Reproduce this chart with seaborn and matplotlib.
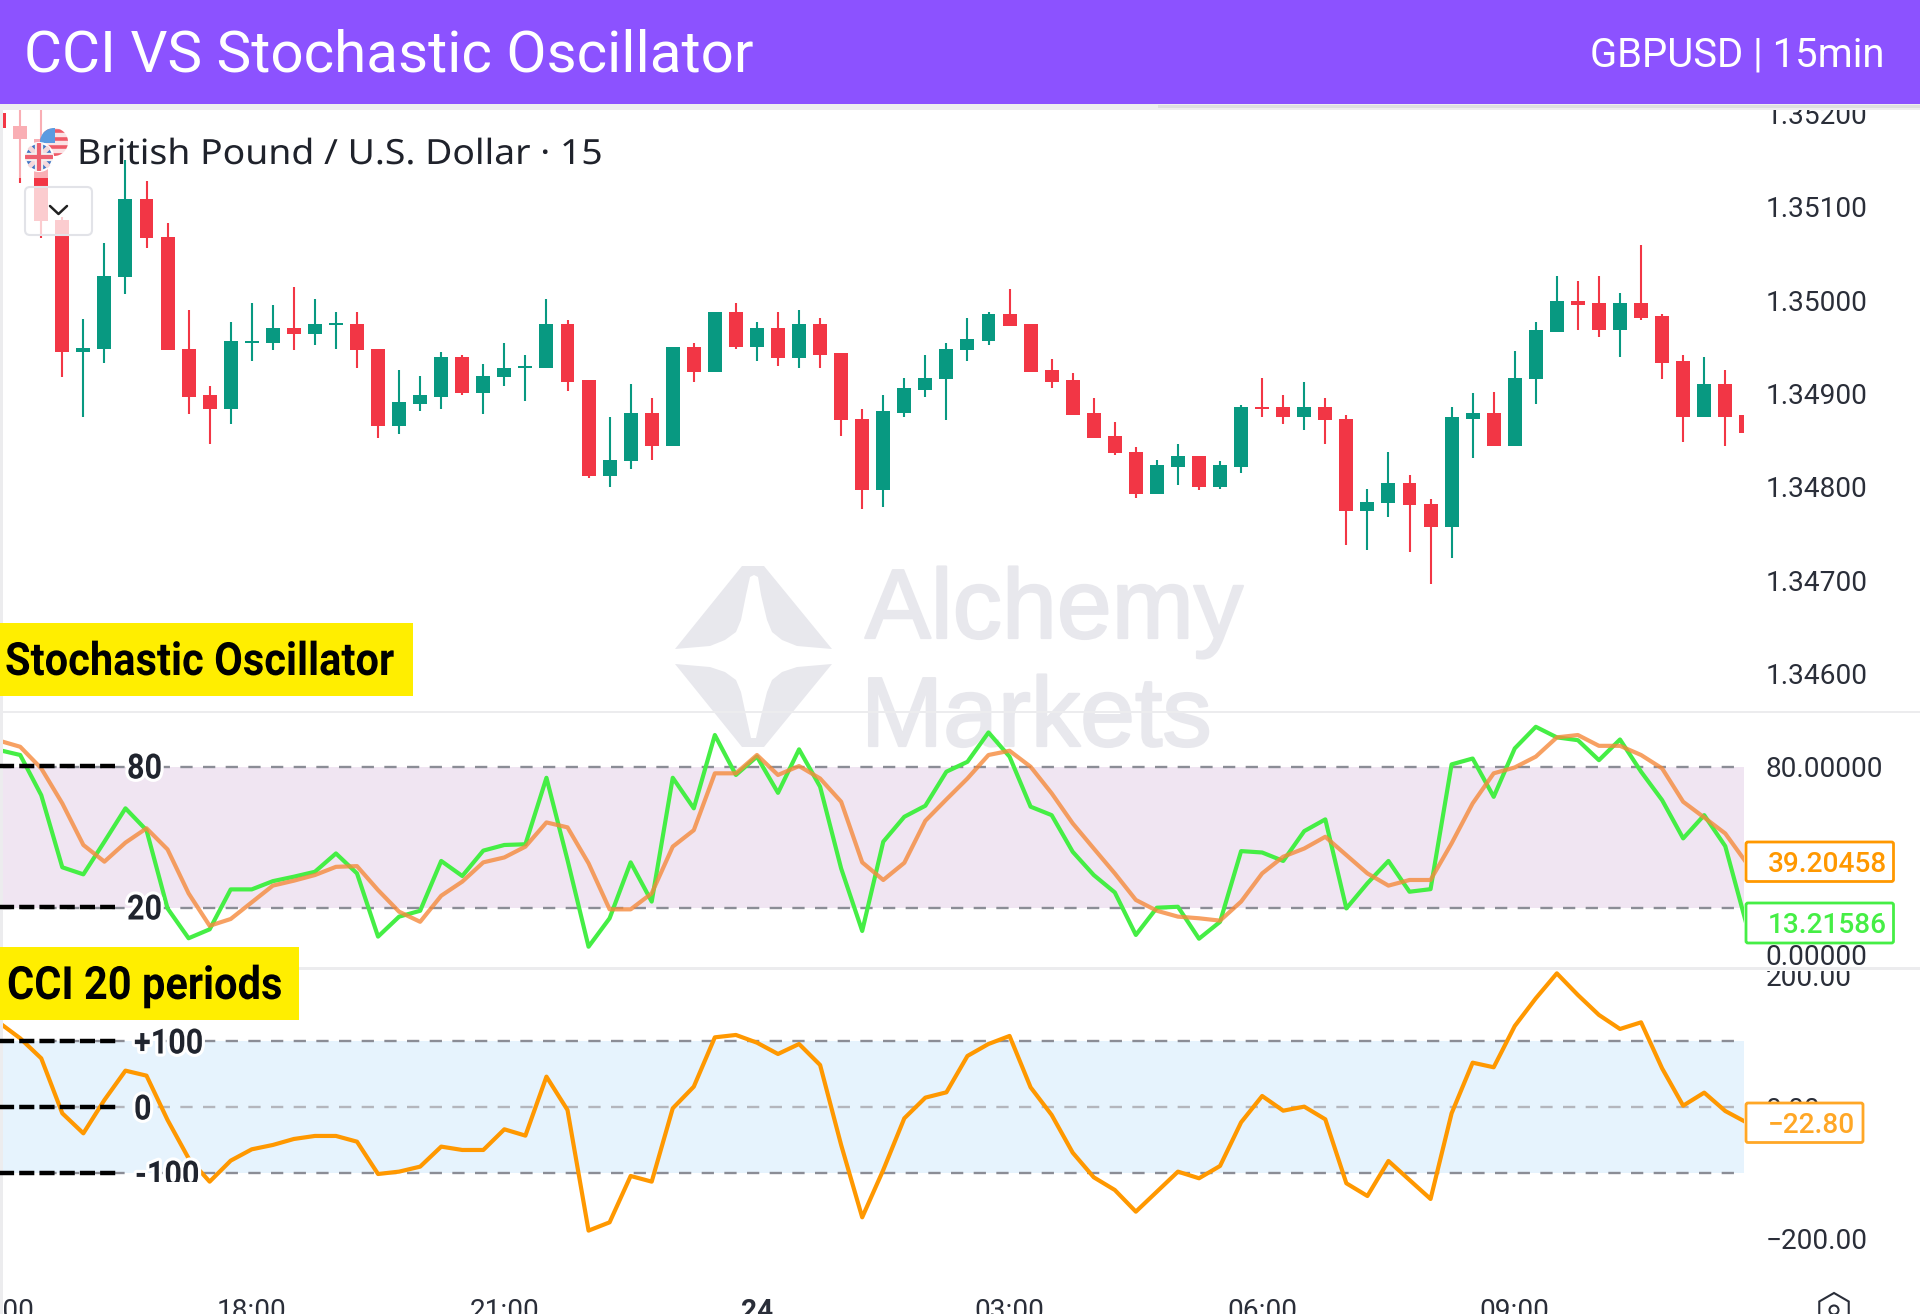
import numpy as np
import pandas as pd
import matplotlib
matplotlib.use("Agg")
import matplotlib.pyplot as plt
import seaborn as sns
import matplotlib.patheffects as pe
from matplotlib.lines import Line2D
from matplotlib.patches import Rectangle, Polygon, FancyBboxPatch, Circle, RegularPolygon
from matplotlib.transforms import Affine2D, Bbox

# ---------- data ----------
bar_index = list(range(-1, 83))
open_ = [1.35200,1.35186,1.35173,1.35086,1.34944,1.34948,1.35025,1.35108,1.35068,1.34948,1.34898,1.34883,1.34954,1.34954,1.34970,1.34964,1.34973,1.34974,1.34948,1.34865,1.34889,1.34896,1.34939,1.34900,1.34917,1.34927,1.34927,1.34974,1.34914,1.34811,1.34827,1.34879,1.34844,1.34950,1.34923,1.34987,1.34950,1.34970,1.34938,1.34974,1.34943,1.34873,1.34796,1.34879,1.34904,1.34915,1.34946,1.34956,1.34985,1.34974,1.34925,1.34914,1.34879,1.34854,1.34837,1.34792,1.34821,1.34833,1.34800,1.34821,1.34885,1.34885,1.34875,1.34885,1.34873,1.34774,1.34782,1.34804,1.34781,1.34757,1.34873,1.34879,1.34844,1.34915,1.34966,1.34999,1.34997,1.34968,1.34997,1.34983,1.34935,1.34875,1.34910,1.34877]
high = [1.35210,1.35230,1.35230,1.35089,1.34980,1.35061,1.35150,1.35128,1.35082,1.34989,1.34908,1.34976,1.34997,1.34995,1.35014,1.35001,1.34987,1.34987,1.34948,1.34925,1.34919,1.34944,1.34941,1.34931,1.34954,1.34941,1.35001,1.34979,1.34914,1.34875,1.34910,1.34895,1.34950,1.34954,1.34987,1.34997,1.34976,1.34987,1.34989,1.34981,1.34943,1.34883,1.34898,1.34916,1.34941,1.34954,1.34981,1.34987,1.35012,1.34974,1.34937,1.34922,1.34895,1.34869,1.34842,1.34829,1.34846,1.34833,1.34827,1.34887,1.34916,1.34898,1.34912,1.34895,1.34877,1.34798,1.34837,1.34812,1.34787,1.34885,1.34900,1.34901,1.34945,1.34976,1.35026,1.35020,1.35026,1.35008,1.35059,1.34985,1.34941,1.34939,1.34925,1.34885]
low = [1.35178,1.35125,1.35066,1.34917,1.34875,1.34933,1.35006,1.35056,1.34946,1.34878,1.34846,1.34867,1.34935,1.34946,1.34946,1.34952,1.34948,1.34927,1.34852,1.34856,1.34881,1.34883,1.34898,1.34878,1.34908,1.34892,1.34927,1.34902,1.34809,1.34800,1.34819,1.34829,1.34844,1.34912,1.34923,1.34948,1.34935,1.34929,1.34927,1.34927,1.34854,1.34776,1.34778,1.34875,1.34896,1.34871,1.34935,1.34952,1.34972,1.34923,1.34906,1.34877,1.34852,1.34834,1.34788,1.34792,1.34802,1.34796,1.34798,1.34815,1.34875,1.34867,1.34861,1.34846,1.34738,1.34732,1.34767,1.34730,1.34696,1.34724,1.34831,1.34844,1.34844,1.34889,1.34966,1.34968,1.34960,1.34939,1.34979,1.34915,1.34848,1.34875,1.34844,1.34850]
close = [1.35184,1.35172,1.35085,1.34944,1.34949,1.35026,1.35108,1.35066,1.34946,1.34896,1.34883,1.34956,1.34956,1.34970,1.34964,1.34974,1.34975,1.34946,1.34865,1.34891,1.34898,1.34939,1.34900,1.34919,1.34927,1.34929,1.34974,1.34912,1.34811,1.34829,1.34879,1.34844,1.34950,1.34923,1.34987,1.34950,1.34970,1.34938,1.34974,1.34941,1.34871,1.34796,1.34881,1.34906,1.34916,1.34948,1.34958,1.34985,1.34972,1.34923,1.34912,1.34877,1.34852,1.34836,1.34792,1.34823,1.34833,1.34800,1.34823,1.34885,1.34883,1.34875,1.34885,1.34871,1.34774,1.34784,1.34804,1.34780,1.34757,1.34875,1.34879,1.34844,1.34916,1.34968,1.34999,1.34995,1.34968,1.34997,1.34981,1.34933,1.34875,1.34910,1.34875,1.34858]
stoch_k = [87.1,85.0,67.9,37.2,34.2,48.1,62.3,53.0,19.7,7.0,10.8,27.8,27.8,31.3,33.2,35.3,43.1,34.6,7.7,16.2,18.7,39.9,33.5,44.3,46.7,47.0,75.3,40.3,3.4,15.5,39.3,22.6,75.3,62.3,93.5,76.5,84.3,68.9,87.4,71.5,36.7,10.1,48.1,58.7,63.4,77.9,82.1,94.6,84.3,63.0,59.4,43.8,33.9,26.5,8.4,20.0,20.4,6.8,14.0,44.1,43.5,39.9,52.6,57.6,19.7,30.4,39.9,26.8,27.9,81.0,83.5,67.2,87.8,97.0,92.5,91.3,82.8,91.6,77.9,65.8,49.5,59.4,46.2,13.21586]
stoch_d = [91.1,88.5,79.3,64.4,46.7,39.6,47.7,53.8,44.8,26.1,12.3,15.2,22.3,29.4,31.5,33.9,37.4,37.7,27.5,18.3,14.0,25.1,31.1,39.3,41.4,46.0,56.3,54.2,38.9,19.3,19.3,26.1,46.0,53.0,77.2,77.2,85.0,76.5,80.3,75.0,65.1,39.3,31.8,39.1,57.0,66.1,75.0,85.0,86.8,80.0,68.7,55.9,45.2,34.6,23.3,18.7,16.2,15.5,14.5,22.6,34.6,41.7,45.2,50.2,42.4,34.6,29.4,31.8,31.8,47.4,64.4,77.2,79.7,84.3,92.5,93.5,88.9,88.9,85.0,79.3,65.1,58.4,51.6,39.20458]
cci = [128.6,104.8,74.4,-9.1,-39.5,11.1,55.7,48.1,-19.2,-77.5,-112.9,-81.0,-63.8,-57.2,-48.1,-43.5,-43.5,-52.2,-101.3,-97.7,-90.1,-59.7,-64.8,-64.8,-33.4,-43.0,46.6,-4.1,-187.3,-174.7,-104.3,-112.9,-1.5,31.4,106.3,109.9,98.2,81.0,96.2,64.3,-57.2,-167.1,-95.2,-16.7,14.7,22.8,78.0,96.2,108.4,30.4,-11.6,-68.9,-106.3,-125.6,-158.5,-128.1,-97.7,-107.8,-89.1,-22.8,17.2,-5.1,1.0,-18.2,-115.4,-134.7,-81.5,-110.4,-139.2,-9.1,67.8,60.8,123.5,165.6,203.5,170.6,140.3,119.0,129.1,59.2,2.5,22.3,-5.6,-22.8]
price_ticks = [1.346, 1.347, 1.348, 1.349, 1.350, 1.351, 1.352]
stoch_ticks = [0, 80]
stoch_tick_labels = ["0.00000", "80.00000"]
cci_ticks = [-200, 0, 200]
cci_tick_labels = ["\u2212200.00", "0.00", "200.00"]
time_ticks = [-1, 11, 23, 35, 47, 59, 71]
time_labels = ["15:00", "18:00", "21:00", "24", "03:00", "06:00", "09:00"]

# ---------- style ----------
W, H = 1920, 1314
sns.set_theme(style="white")
plt.rcParams["font.family"] = ["Roboto", "DejaVu Sans"]
UP, DOWN = "#089981", "#F23645"
INK = "#2a2e39"
GREEN, ORANGE, CCI_C = "#45ee45", "#f58a3c", "#ff9800"

fig = plt.figure(figsize=(W / 100, H / 100), dpi=100, facecolor="white")
T = Affine2D().scale(1, -1).translate(0, H)  # pixel coordinates measured from the top left
SLOT = 21.05
X0 = 20.2
AX_L, AX_R = -10, 1743.5
xlim = ((AX_L - X0) / SLOT, (AX_R - X0) / SLOT)


class Squeeze(pe.AbstractPathEffect):
    """Scale glyph outlines horizontally about a pixel column, with an optional halo."""

    def __init__(self, sx, x0, halo=0.0):
        super().__init__()
        self.sx, self.x0, self.halo = sx, x0, halo

    def draw_path(self, renderer, gc, tpath, affine, rgbFace=None):
        a = affine + Affine2D().translate(-self.x0, 0).scale(self.sx, 1).translate(self.x0, 0)
        if self.halo:
            g = renderer.new_gc()
            g.copy_properties(gc)
            g.set_foreground("white")
            g.set_linewidth(self.halo)
            renderer.draw_path(g, tpath, a, (1, 1, 1, 1))
            g.restore()
        renderer.draw_path(gc, tpath, a, rgbFace)


def panel(top, bottom, ylim):
    ax = fig.add_axes([AX_L / W, 1 - bottom / H, (AX_R - AX_L) / W, (bottom - top) / H])
    ax.set_facecolor("none")
    ax.set_zorder(2)
    ax.set_xlim(*xlim)
    ax.set_ylim(*ylim)
    for s in ax.spines.values():
        s.set_visible(False)
    ax.yaxis.tick_right()
    ax.tick_params(axis="y", length=0, pad=16, labelsize=20.2, colors=INK)
    ax.tick_params(axis="x", length=0)
    ax.set_xticks([])
    ax.set_xlabel("")
    ax.set_ylabel("")
    return ax


frame = pd.DataFrame({"i": bar_index, "o": open_, "h": high, "l": low, "c": close,
                      "k": stoch_k, "d": stoch_d, "cci": cci})

# ---------- price panel ----------
ax_p = panel(110, 712, (1.345586, 1.352036))
colors = [UP if c >= o else DOWN for o, c in zip(frame.o, frame.c)]
ax_p.vlines(frame.i, frame.l, frame.h, colors=colors, lw=1.5, zorder=2)
ax_p.bar(frame.i, (frame.c - frame.o).abs(), bottom=frame[["o", "c"]].min(axis=1),
         width=0.665, color=colors, linewidth=0, zorder=3)
ax_p.set_yticks(price_ticks)
ax_p.set_yticklabels([f"{v:.5f}" for v in price_ticks])

# ---------- stochastic panel ----------
ax_s = panel(712, 968, (-5.66, 103.3))
ax_s.axhspan(20, 80, color="#f0e5f2", lw=0, zorder=1)
for lv in (20, 80):
    ax_s.axhline(lv, color="#8b8d96", lw=1.7, ls=(0, (5.2, 4.4)), zorder=2)
sns.lineplot(data=frame, x="i", y="k", color=GREEN, lw=3.0, ax=ax_s, estimator=None, legend=False, zorder=3)
sns.lineplot(data=frame, x="i", y="d", color=ORANGE, lw=3.0, alpha=0.8, ax=ax_s, estimator=None, legend=False, zorder=4)
ax_s.set_xlim(*xlim)
ax_s.set_xlabel("")
ax_s.set_ylabel("")
ax_s.set_xticks([])
ax_s.set_yticks(stoch_ticks)
ax_s.set_yticklabels(stoch_tick_labels)

# ---------- CCI panel ----------
ax_c = panel(969, 1285, (-269.9, 210.1))
ax_c.axhspan(-100, 100, color="#e6f3fd", lw=0, zorder=1)
for lv, col in ((100, "#8b8d96"), (0, "#b4b6bd"), (-100, "#8b8d96")):
    ax_c.axhline(lv, color=col, lw=1.7, ls=(0, (5.2, 4.4)), zorder=2)
sns.lineplot(data=frame, x="i", y="cci", color=CCI_C, lw=3.0, ax=ax_c, estimator=None, legend=False, zorder=3)
ax_c.set_xlim(*xlim)
ax_c.set_xlabel("")
ax_c.set_ylabel("")
ax_c.set_yticks(cci_ticks)
ax_c.set_yticklabels(cci_tick_labels)
ax_c.set_xticks(time_ticks)
ax_c.set_xticklabels(time_labels, fontsize=20.2, color=INK)
ax_c.tick_params(axis="x", pad=9.5)
for lab in ax_c.get_xticklabels():
    if lab.get_text() == "24":
        lab.set_fontweight("bold")
for lab in ax_c.get_yticklabels():
    if lab.get_text() == "200.00":
        lab.set_clip_on(True)
        lab.set_clip_box(Bbox([[1700, 0], [1920, H - 971]]))


# ---------- decoration in pixel coordinates ----------
def rect(x0, y0, x1, y1, color, z=5, alpha=None):
    fig.add_artist(Rectangle((x0, y0), x1 - x0, y1 - y0, transform=T, facecolor=color,
                             edgecolor="none", zorder=z, alpha=alpha))


def label(x, y, s, z=8, **kw):
    return fig.text(x, y, s, transform=T, zorder=z, **kw)


# watermark behind the panels
WM = "#e8e8ed"
top_logo = [(15, 99), (82, 16), (104, 16), (172, 99), (137, 96), (122, 90), (112, 82), (107, 70), (101, 45), (98, 27), (94, 25), (90, 27), (86, 45), (81, 70), (76, 82), (65, 90), (50, 96)]
bot_logo = [(15, 114), (82, 197), (104, 197), (172, 114), (137, 117), (122, 122), (112, 130), (107, 142), (100, 170), (96, 188), (91, 188), (87, 170), (81, 142), (76, 130), (65, 122), (50, 117)]
for shape in (top_logo, bot_logo):
    fig.add_artist(Polygon([(660 + a, 550 + b) for a, b in shape], closed=True, transform=T,
                           facecolor=WM, edgecolor="none", zorder=0))
wm_fx = [pe.withStroke(linewidth=1.6, foreground=WM)]
label(865, 638, "Alchemy", z=0, family="Liberation Sans", fontsize=71, color=WM, va="baseline", path_effects=wm_fx)
label(861, 746, "Markets", z=0, family="Liberation Sans", fontsize=71, color=WM, va="baseline", path_effects=wm_fx)

# separators and frame
rect(0, 711, W, 713, "#ececee")
rect(0, 967, W, 970, "#ececee")
rect(0, 110, 2.5, H, "#ececee")

# header
rect(0, 103, W, 110, "#eeeeef", z=9)
rect(1158, 105, W, 108, "#dedee0", z=9)
rect(0, 0, W, 104, "#8c52ff", z=10)
label(24, 71, "CCI VS Stochastic Oscillator", z=11, color="white", fontsize=42, va="baseline")
label(1884, 66, "GBPUSD | 15min", z=11, color="white", fontsize=28.8, va="baseline", ha="right")

# chart legend over the first candles
rect(12, 110, 92, 178, "white", z=6, alpha=0.6)
fig.add_artist(FancyBboxPatch((25, 187), 67, 48, boxstyle="round,pad=0,rounding_size=5", transform=T,
                              facecolor=(1, 1, 1, 0.75), edgecolor="#e2e3e8", lw=1.5, zorder=6))
fig.add_artist(Line2D([50, 58.5, 67], [206, 214, 206], transform=T, color="#222", lw=1.8, zorder=7))
us = Circle((54, 142), 14, transform=T, facecolor="#fbe3e5", edgecolor="none", zorder=7)
fig.add_artist(us)
for yy in (131, 139, 147, 155):
    ln = Line2D([38, 70], [yy, yy], transform=T, color="#ef5a68", lw=2.6, zorder=7)
    fig.add_artist(ln)
    ln.set_clip_path(us)
can = Rectangle((40, 128), 15, 15, transform=T, facecolor="#5b9be0", edgecolor="none", zorder=7)
fig.add_artist(can)
can.set_clip_path(us)
uk = Circle((39, 157), 14, transform=T, facecolor="#3f74c4", edgecolor="white", lw=1.5, zorder=7.5)
fig.add_artist(uk)
for (xs, ys, col, lw) in (([25, 53], [143, 171], "#f4d9dc", 3.5), ([25, 53], [171, 143], "#f4d9dc", 3.5),
                          ([25, 53], [157, 157], "#f3f0f0", 6), ([39, 39], [143, 171], "#f3f0f0", 6),
                          ([25, 53], [157, 157], "#ee6070", 3), ([39, 39], [143, 171], "#ee6070", 3)):
    ln = Line2D(xs, ys, transform=T, color=col, lw=lw, zorder=7.6)
    fig.add_artist(ln)
    ln.set_clip_path(uk)
label(77, 164, "British Pound / U.S. Dollar \u00b7 15", z=8, family="Noto Sans", color="#1f222b",
      fontsize=25, va="baseline", path_effects=[Squeeze(1.075, 77)])

# yellow captions
rect(0, 623, 412.7, 695.7, "#ffee00", z=7)
label(5, 675, "Stochastic Oscillator", fontweight="bold", color="black", fontsize=33, va="baseline",
      path_effects=[Squeeze(0.908, 5)])
rect(0, 947, 299, 1020, "#ffee00", z=7)
label(7, 999, "CCI 20 periods", fontweight="bold", color="black", fontsize=33, va="baseline",
      path_effects=[Squeeze(0.907, 7)])

# hand-drawn level markers
for y, txt, xt in ((766, "80", 127), (907, "20", 127), (1041, "+100", 134), (1107, "0", 134), (1173, "-100", 135)):
    xe = 115 if y < 950 else 117
    fig.add_artist(Line2D([-3, xe], [y, y], transform=T, color="black", lw=3.2,
                          ls=(0, (3.4, 1.15)), dash_capstyle="butt", zorder=7))
    t = label(xt, y + 12.5, txt, fontweight="bold", color="#20242e", fontsize=25,
              va="baseline", path_effects=[Squeeze(0.88, xt, halo=4.5)])
    if txt == "-100":
        t.set_clip_on(True)
        t.set_clip_box(Bbox([[0, H - 1182], [400, H - 1140]]))


# value tags
def tag(x0, y0, x1, y1, txt, col):
    fig.add_artist(FancyBboxPatch((x0, y0), x1 - x0, y1 - y0, boxstyle="round,pad=0,rounding_size=2",
                                  transform=T, facecolor="white", edgecolor=col, lw=2, zorder=8))
    label(x0 + 21.5, (y0 + y1) / 2 + 10, txt, z=9, color=col, fontsize=20.2, va="baseline",
          fontweight="medium")


tag(1746, 842, 1893.5, 881.5, "39.20458", "#ff9800")
tag(1746, 903, 1893.5, 943, "13.21586", "#45ee45")
tag(1746, 1103, 1863, 1142.5, "\u221222.80", "#ffa726")

# settings icon
fig.add_artist(RegularPolygon((1834, 1310), 6, radius=17, transform=T, facecolor="none",
                              edgecolor=INK, lw=1.5, zorder=8))
fig.add_artist(Circle((1834, 1310), 4.5, transform=T, facecolor="none", edgecolor=INK, lw=1.5, zorder=8))

fig.savefig("out.png", dpi=100, facecolor="white")
